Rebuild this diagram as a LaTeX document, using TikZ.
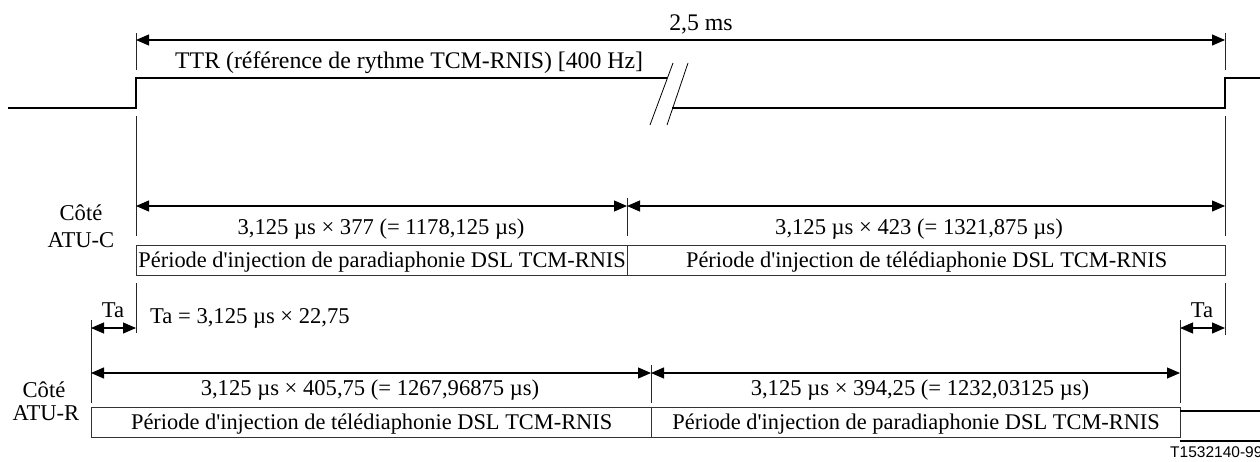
\documentclass[tikz,border=0pt]{standalone}
\usepackage{fontspec}
\setmainfont{Liberation Serif}[Ligatures=TeXOff]
\setsansfont{Liberation Sans}
\usetikzlibrary{arrows.meta}
\begin{document}
\begin{tikzpicture}[x=1pt,y=-1pt,
  lbl/.style={inner sep=0pt,anchor=base,font=\fontsize{22.6}{28}\selectfont},
  big/.style={font=\fontsize{23.8}{28}\selectfont},
  sig/.style={line width=1.3pt},
  vline/.style={line width=1pt,draw=black!85},
  brk/.style={line width=0.8pt},
  dimarrow/.style={line width=1.1pt,{Triangle[length=13pt,width=11pt]}-{Triangle[length=13pt,width=11pt]}},
  pbox/.style={draw=black!80,line width=1.3pt,inner sep=0pt,minimum height=30pt,anchor=north west,
    text height=18pt,text depth=4pt,font=\fontsize{22.4}{28}\selectfont},
  thick line/.style={line width=2.2pt}
]
\useasboundingbox (0,0) rectangle (1260,461);

% --- signal TTR ---
\coordinate (s0) at (8,108);
\coordinate (s1) at (136,108);
\coordinate (s2) at (136,78);
\coordinate (s3) at (667,78);
\coordinate (s4) at (672,108);
\coordinate (s5) at (1225,108);
\coordinate (s6) at (1225,78);
\coordinate (s7) at (1260,78);
\draw[sig] (s0) -- (s1) -- (s2) -- (s3);
\draw[sig] (s4) -- (s5) -- (s6) -- (s7);
\coordinate (b1a) at (673,63); \coordinate (b1b) at (650,125);
\coordinate (b2a) at (688,63); \coordinate (b2b) at (667,125);
\draw[brk] (b1a) -- (b1b);
\draw[brk] (b2a) -- (b2b);

% --- vertical reference lines ---
\coordinate (L1) at (136,33); \coordinate (L2) at (136,70);
\coordinate (L3) at (136,116); \coordinate (L4) at (136,236);
\coordinate (L5) at (136,283); \coordinate (L6) at (136,333);
\coordinate (R1) at (1225,33); \coordinate (R2) at (1225,70);
\coordinate (R3) at (1225,116); \coordinate (R4) at (1225,236);
\coordinate (R5) at (1225,283); \coordinate (R6) at (1225,335);
\draw[vline] (L1) -- (L2) (L3) -- (L4) (L5) -- (L6);
\draw[vline] (R1) -- (R2) (R3) -- (R4) (R5) -- (R6);
\coordinate (M1) at (627,198); \coordinate (M2) at (627,236);
\draw[vline] (M1) -- (M2);
\coordinate (A1) at (91,320); \coordinate (A2) at (91,403);
\draw[vline] (A1) -- (A2);
\coordinate (N1) at (651,365); \coordinate (N2) at (651,403);
\draw[vline] (N1) -- (N2);
\coordinate (B1) at (1180,320); \coordinate (B2) at (1180,403);
\draw[vline] (B1) -- (B2);

% --- top dimension ---
\coordinate (t0) at (136,40); \coordinate (t1) at (1225,40);
\draw[dimarrow] (t0) -- (t1);
\node[lbl,big] (tlab) at (701,30) {2,5 ms};
\node[lbl,big,anchor=base west] (ttr) at (175,68) {TTR (référence de rythme TCM-RNIS) [400 Hz]};

% --- ATU-C ---
\node[lbl] (cote1) at (81,220) {Côté};
\node[lbl] (atuc) at (81,247) {ATU-C};
\coordinate (c0) at (136,206); \coordinate (c1) at (627,206); \coordinate (c2) at (1225,206);
\draw[dimarrow] (c0) -- (c1);
\draw[dimarrow] (c1) -- (c2);
\node[lbl] (cd1) at (381,234) {3,125 µs × 377 (= 1178,125 µs)};
\node[lbl] (cd2) at (919,234) {3,125 µs × 423 (= 1321,875 µs)};
\node[pbox,minimum width=491pt] (cb1) at (136,245) {Période d'injection de paradiaphonie DSL TCM-RNIS};
\node[pbox,minimum width=598pt] (cb2) at (627,245) {Période d'injection de télédiaphonie DSL TCM-RNIS};

% --- Ta ---
\coordinate (ta0) at (91,328); \coordinate (ta1) at (136,328);
\draw[dimarrow] (ta0) -- (ta1);
\node[lbl] (talab) at (113,317) {Ta};
\node[lbl,anchor=base west] (taeq) at (150,323) {Ta = 3,125 µs × 22,75};
\coordinate (tb0) at (1180,328); \coordinate (tb1) at (1225,328);
\draw[dimarrow] (tb0) -- (tb1);
\node[lbl] (tblab) at (1202,317) {Ta};

% --- ATU-R ---
\node[lbl] (cote2) at (44,397) {Côté};
\node[lbl] (atur) at (46,420) {ATU-R};
\coordinate (r0) at (91,373); \coordinate (r1) at (651,373); \coordinate (r2) at (1180,373);
\draw[dimarrow] (r0) -- (r1);
\draw[dimarrow] (r1) -- (r2);
\node[lbl] (rd1) at (370,395) {3,125 µs × 405,75 (= 1267,96875 µs)};
\node[lbl] (rd2) at (920,395) {3,125 µs × 394,25 (= 1232,03125 µs)};
\node[pbox,minimum width=560pt] (rb1) at (91,407) {Période d'injection de télédiaphonie DSL TCM-RNIS};
\node[pbox,minimum width=529pt] (rb2) at (651,407) {Période d'injection de paradiaphonie DSL TCM-RNIS};
\coordinate (n0) at (1180,411); \coordinate (n1) at (1260,411);
\coordinate (n2) at (1180,441); \coordinate (n3) at (1260,441);
\draw[thick line] (n0) -- (n1);
\draw[thick line] (n2) -- (n3);

\node[inner sep=0pt,anchor=base west,font=\sffamily\fontsize{15.5}{18}\selectfont] (ref) at (1170,457) {T1532140-99};
\end{tikzpicture}
\end{document}
